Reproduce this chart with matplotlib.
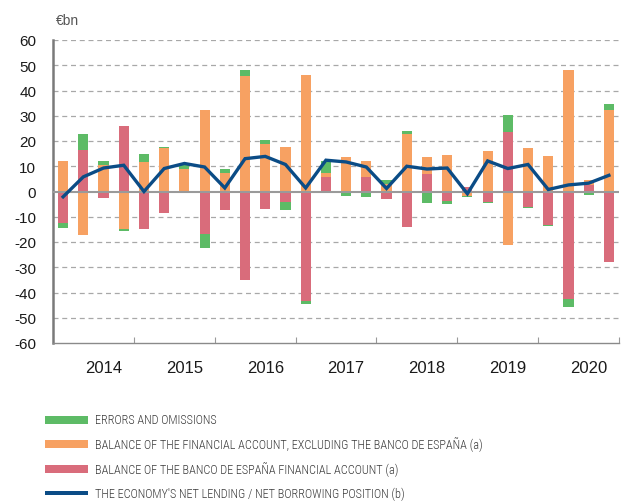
import numpy as np
import matplotlib
matplotlib.use("Agg")
import matplotlib.pyplot as plt
from matplotlib.patches import Rectangle
from matplotlib import font_manager

years = ["2014", "2015", "2016", "2017", "2018", "2019", "2020"]

bde = [-12.4, 16.3, -2.4, 25.9, -14.7, -8.7, 0.0, -16.8, -7.4, -34.9, -6.8, -4.3, -43.3, 5.7,
       0.0, 5.7, -3.0, -14.2, 6.8, -3.6, 1.7, -4.1, 23.4, -6.3, -13.2, -42.6, 2.6, -28.0]
fin_excl = [12.2, -17.2, 10.4, -15.0, 11.8, 17.2, 8.8, 32.1, 7.4, 45.9, 18.9, 17.8, 46.3, 1.8,
            13.7, 6.3, 2.8, 22.9, 6.9, 14.3, -1.6, 16.1, -21.1, 17.2, 14.2, 48.3, 1.8, 32.1]
errors = [-2.2, 6.5, 1.6, -0.7, 2.9, 0.6, 2.0, -5.4, 1.7, 2.1, 1.6, -3.2, -1.2, 4.6,
          -1.6, -2.2, 1.6, 1.2, -4.7, -1.4, -0.7, -0.3, 7.0, -0.4, -0.4, -3.0, -1.3, 2.5]
net_lending = [-2.1, 5.8, 9.3, 10.4, 0.0, 9.1, 11.1, 9.7, 1.4, 13.0, 13.9, 10.7, 1.4, 12.4,
               11.7, 9.7, 1.2, 10.0, 8.9, 9.3, -0.9, 12.1, 9.1, 10.7, 0.8, 2.6, 3.3, 6.4]

labels = ["ERRORS AND OMISSIONS",
          "BALANCE OF THE FINANCIAL ACCOUNT, EXCLUDING THE BANCO DE ESPAÑA (a)",
          "BALANCE OF THE BANCO DE ESPAÑA FINANCIAL ACCOUNT (a)",
          "THE ECONOMY'S NET LENDING / NET BORROWING POSITION (b)"]

c_green = "#5DBB66"
c_orange = "#F7A162"
c_red = "#D96C7B"
c_blue = "#0B4C86"

plt.rcParams['font.family'] = ['Liberation Sans', 'DejaVu Sans']


def has_font(name):
    try:
        font_manager.findfont(font_manager.FontProperties(family=name), fallback_to_default=False)
        return True
    except Exception:
        return False


if has_font('Roboto Condensed'):
    leg_family, leg_size = ['Roboto Condensed', 'DejaVu Sans'], 8.8
elif has_font('Liberation Sans Narrow'):
    leg_family, leg_size = ['Liberation Sans Narrow', 'DejaVu Sans'], 9.0
else:
    leg_family, leg_size = ['Liberation Sans', 'DejaVu Sans'], 8.2

fig = plt.figure(figsize=(6.21, 5.02), dpi=100)
ax = fig.add_axes([53/621, 1-344/502, (619-53)/621, (344-41)/502])

n = len(bde)
x = np.arange(n)
pos_base = np.zeros(n)
neg_base = np.zeros(n)
for vals, col in [(bde, c_red), (fin_excl, c_orange), (errors, c_green)]:
    v = np.array(vals)
    bottom = np.where(v >= 0, pos_base, neg_base)
    ax.bar(x, v, bottom=bottom, width=0.5, color=col, zorder=2, linewidth=0)
    pos_base = pos_base + np.where(v >= 0, v, 0)
    neg_base = neg_base + np.where(v < 0, v, 0)

ax.axhline(0, color="#9a9a9a", lw=1.5, zorder=3)
ax.plot(x, net_lending, color=c_blue, lw=2.4, zorder=4, solid_joinstyle='miter')

ax.set_xlim(-0.5, n - 0.5)
ax.set_ylim(-60, 60)
ax.set_yticks(np.arange(-60, 61, 10))
ax.set_yticklabels([str(v) for v in range(-60, 61, 10)], fontsize=11, color="#1a1a1a")
ax.tick_params(axis='y', length=0, pad=12)
for yv in range(-50, 61, 10):
    if yv != 0:
        ax.axhline(yv, color="#a8a8a8", lw=0.9, ls=(0, (4, 3)), zorder=1)

ax.set_xticks(np.arange(3.5, n, 4))
ax.set_xticklabels([])
ax.tick_params(axis='x', which='major', direction='in', length=4, color="#999999", width=0.8)
ax.set_xticks(np.arange(2, n, 4), minor=True)
ax.set_xticklabels(years, minor=True, fontsize=12, color="#1a1a1a")
ax.tick_params(axis='x', which='minor', length=0, pad=12)

for s in ['top', 'right']:
    ax.spines[s].set_visible(False)
ax.spines['left'].set_color("#7a7a7a")
ax.spines['left'].set_linewidth(1.8)
ax.spines['bottom'].set_color("#8a8a8a")
ax.spines['bottom'].set_linewidth(1.0)

fig.text(56/621, 1-21/502, "€bn", fontsize=10, color="#555555", va='center', ha='left')

# legend
rows = [421, 445, 470, 494]
for (yy, lab, col) in zip(rows, labels, [c_green, c_orange, c_red, c_blue]):
    if col == c_blue:
        fig.add_artist(Rectangle((45/621, 1-(yy+2)/502), 43/621, 4/502, transform=fig.transFigure,
                                 color=col, lw=0))
    else:
        fig.add_artist(Rectangle((45/621, 1-(yy+4)/502), 43/621, 8/502, transform=fig.transFigure,
                                 color=col, lw=0))
    fig.text(95/621, 1-yy/502, lab, fontsize=leg_size, color="#3a3a3a", va='center', ha='left',
             family=leg_family, fontweight='light')

fig.savefig("out.png", dpi=100)
